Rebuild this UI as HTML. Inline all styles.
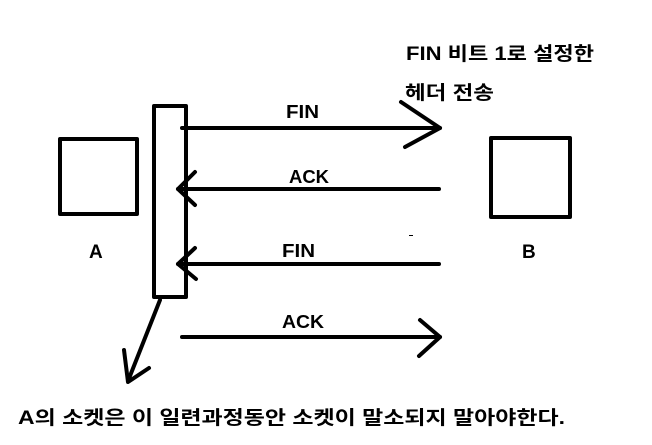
<!DOCTYPE html>
<html><head><meta charset="utf-8"><style>
html,body{margin:0;padding:0;background:#fff;}
svg{display:block;}
text{font-family:"Liberation Sans","Noto Sans CJK KR",sans-serif;font-weight:bold;fill:#000;}
</style></head><body>
<svg width="652" height="445" viewBox="0 0 652 445" xmlns="http://www.w3.org/2000/svg">
<g fill="none" stroke="#000" stroke-width="4" stroke-linecap="round" stroke-linejoin="round">
<rect x="60" y="139" width="77" height="75" stroke-linecap="butt"/>
<rect x="491" y="138" width="79" height="79" stroke-linecap="butt"/>
<rect x="154" y="106" width="32" height="191" stroke-linecap="butt"/>
<line x1="182" y1="128" x2="440" y2="128"/>
<polyline points="401,102 440,128 405,147"/>
<line x1="178" y1="189" x2="439" y2="189"/>
<polyline points="195,172 178,189 195,205"/>
<line x1="178" y1="264" x2="439" y2="264"/>
<polyline points="195,248 178,264 196,279"/>
<line x1="182" y1="337" x2="440" y2="337"/>
<polyline points="420,320 440,337 419,356"/>
<line x1="160" y1="300" x2="128" y2="381"/>
<polyline points="124,350 128,382 149,368"/>
</g>
<text x="406" y="60" font-size="19" textLength="188" lengthAdjust="spacingAndGlyphs">FIN 비트 1로 설정한</text>
<text x="405" y="99" font-size="19" textLength="89" lengthAdjust="spacingAndGlyphs">헤더 전송</text>
<text x="286" y="118" font-size="18" textLength="33" lengthAdjust="spacingAndGlyphs">FIN</text>
<text x="289" y="183" font-size="18" textLength="40" lengthAdjust="spacingAndGlyphs">ACK</text>
<text x="282" y="257" font-size="18" textLength="33" lengthAdjust="spacingAndGlyphs">FIN</text>
<text x="282" y="328" font-size="18" textLength="42" lengthAdjust="spacingAndGlyphs">ACK</text>
<text x="89" y="258" font-size="19">A</text>
<text x="522" y="258" font-size="19">B</text>
<text x="18" y="424" font-size="19" textLength="547" lengthAdjust="spacingAndGlyphs">A의 소켓은 이 일련과정동안 소켓이 말소되지 말아야한다.</text>
<rect x="409" y="235" width="4" height="1" fill="#000"/>
</svg>
</body></html>
